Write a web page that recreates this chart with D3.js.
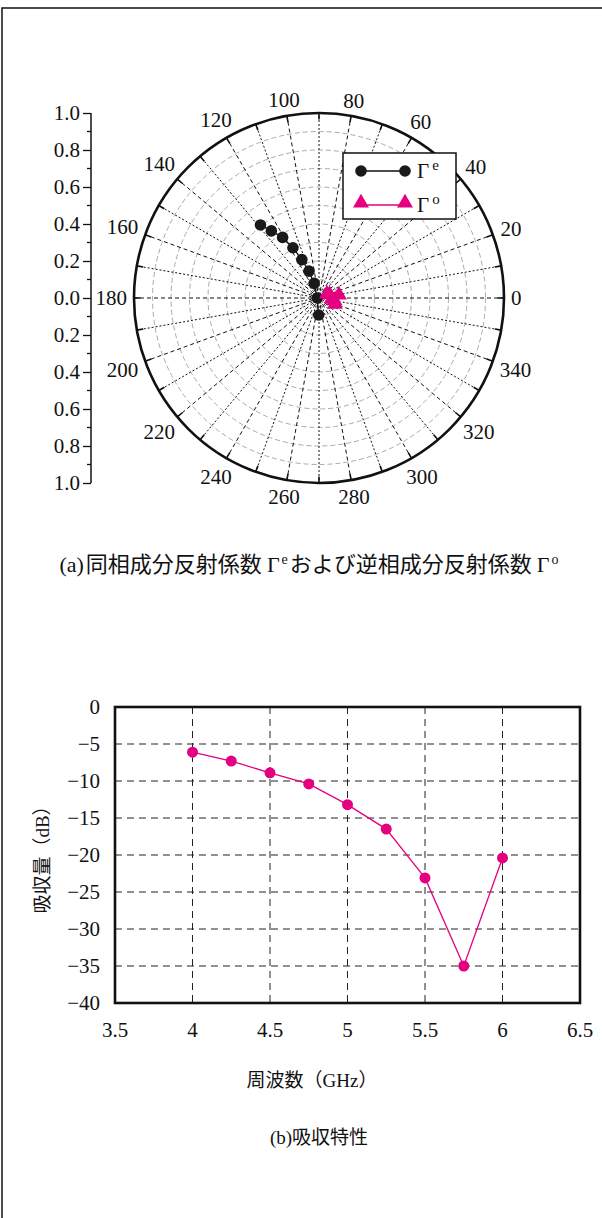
<!DOCTYPE html>
<html>
<head>
<meta charset="utf-8">
<script src="https://cdn.jsdelivr.net/npm/d3@7"></script>
<style>
body { margin: 0; background: #fff; }
text { font-family: "Liberation Serif", "Noto Sans CJK JP", serif; fill: #111; }
</style>
</head>
<body>
<svg id="fig" width="602" height="1218"></svg>
<script>
// ---- data: (a) polar reflection coefficients ----
let gammaEMag = [0.506, 0.445, 0.382, 0.306, 0.227, 0.155, 0.083, 0.01, 0.092];
let gammaEAng = [128.7, 125.4, 121.0, 117.4, 114.1, 110.5, 108.3, 180, 269];
let gammaOMag = [0.048, 0.06, 0.109, 0.07, 0.085, 0.092];
let gammaOAng = [27, 18, 8.5, 356, 350, 339];
let angleLabels = [0, 20, 40, 60, 80, 100, 120, 140, 160, 180, 200, 220, 240, 260, 280, 300, 320, 340];

// ---- data: (b) absorption ----
let freq = [4, 4.25, 4.5, 4.75, 5, 5.25, 5.5, 5.75, 6];
let absorb = [-6.1, -7.3, -8.9, -10.4, -13.2, -16.5, -23.1, -35.0, -20.4];
let xTicks = [3.5, 4, 4.5, 5, 5.5, 6, 6.5];
let yTicks = [0, -5, -10, -15, -20, -25, -30, -35, -40];

const pink = "#e4007f";
const svg = d3.select("#fig");

// outer frame
svg.append("path")
	.attr("d", "M603,8 H2 V1220")
	.attr("fill", "none")
	.attr("stroke", "#111")
	.attr("stroke-width", 1.5);

// ================= (a) polar =================
const cx = 319, cy = 298, R = 185;
let rScale = d3.scaleLinear().domain([0, 1]).range([0, R]);
let polar = svg.append("g").attr("transform", "translate(" + cx + "," + cy + ")");

function px(m, a) { return rScale(m) * Math.cos(a * Math.PI / 180); }
function py(m, a) { return -rScale(m) * Math.sin(a * Math.PI / 180); }

// gray magnitude rings
polar.selectAll(".ring")
	.data(d3.range(1, 10).map(d => d / 10))
	.enter().append("circle")
	.attr("r", d => rScale(d))
	.attr("fill", "none")
	.attr("stroke", "#aaa")
	.attr("stroke-width", 1)
	.attr("stroke-dasharray", "5,3");

// radial spokes every 10 deg
polar.selectAll(".spoke")
	.data(d3.range(0, 360, 10))
	.enter().append("line")
	.attr("x1", 0).attr("y1", 0)
	.attr("x2", d => px(1, d)).attr("y2", d => py(1, d))
	.attr("stroke", "#111")
	.attr("stroke-width", 1)
	.attr("stroke-dasharray", d => d % 20 == 0 ? "4,3" : "2,2");

// outer circle + inward ticks
polar.append("circle")
	.attr("r", R)
	.attr("fill", "none")
	.attr("stroke", "#111")
	.attr("stroke-width", 2.6);

polar.selectAll(".tick")
	.data(d3.range(0, 360, 10))
	.enter().append("line")
	.attr("x1", d => px(1, d)).attr("y1", d => py(1, d))
	.attr("x2", d => px(0.965, d)).attr("y2", d => py(0.965, d))
	.attr("stroke", "#111")
	.attr("stroke-width", 1.6);

// angle labels
polar.selectAll(".alab")
	.data(angleLabels)
	.enter().append("text")
	.style("font-size", "21px")
	.attr("text-anchor", "middle")
	.attr("dy", "0.35em")
	.text(d => d)
	.each(function(d) {
		let w = this.getComputedTextLength() / 2;
		let a = d * Math.PI / 180;
		let rr = R + 7 + w * Math.abs(Math.cos(a)) + 7 * Math.abs(Math.sin(a));
		d3.select(this).attr("x", rr * Math.cos(a)).attr("y", -rr * Math.sin(a));
	});

// series Γe
let lineE = d3.line().x((d, i) => px(gammaEMag[i], gammaEAng[i])).y((d, i) => py(gammaEMag[i], gammaEAng[i]));
polar.append("path")
	.datum(gammaEMag)
	.attr("d", lineE)
	.attr("fill", "none")
	.attr("stroke", "#111")
	.attr("stroke-width", 1.3);

polar.selectAll(".ptE")
	.data(gammaEMag)
	.enter().append("circle")
	.attr("cx", (d, i) => px(d, gammaEAng[i]))
	.attr("cy", (d, i) => py(d, gammaEAng[i]))
	.attr("r", 5.8)
	.attr("fill", "#1a1a1a");

// series Γo
let lineO = d3.line().x((d, i) => px(gammaOMag[i], gammaOAng[i])).y((d, i) => py(gammaOMag[i], gammaOAng[i]));
polar.append("path")
	.datum(gammaOMag)
	.attr("d", lineO)
	.attr("fill", "none")
	.attr("stroke", pink)
	.attr("stroke-width", 1.3);

let tri = d3.symbol().type(d3.symbolTriangle).size(110);
polar.selectAll(".ptO")
	.data(gammaOMag)
	.enter().append("path")
	.attr("d", tri)
	.attr("transform", (d, i) => "translate(" + px(d, gammaOAng[i]) + "," + py(d, gammaOAng[i]) + ")")
	.attr("fill", pink);

// left magnitude axis
let magAxisScale = d3.scaleLinear().domain([-1, 1]).range([cy + R, cy - R]);
let magAxis = svg.append("g")
	.attr("transform", "translate(91,0)")
	.call(d3.axisLeft(magAxisScale)
		.tickValues(d3.range(-10, 11, 2).map(d => d / 10))
		.tickFormat(d => Math.abs(d).toFixed(1))
		.tickSize(8)
		.tickPadding(3));
magAxis.select(".domain").attr("stroke", "#111").attr("stroke-width", 1.5).attr("d", "M0," + (cy - R) + "V" + (cy + R));
magAxis.selectAll(".tick line").attr("stroke", "#111").attr("stroke-width", 1.3);
magAxis.selectAll(".tick text").style("font-size", "21px").style("font-family", "Liberation Serif").attr("fill", "#111");
magAxis.selectAll(".minor")
	.data(d3.range(-9, 10, 2).map(d => d / 10))
	.enter().append("line")
	.attr("x1", -4).attr("x2", 0)
	.attr("y1", d => magAxisScale(d)).attr("y2", d => magAxisScale(d))
	.attr("stroke", "#111").attr("stroke-width", 1.3);

// legend
let leg = svg.append("g").attr("transform", "translate(343,153)");
leg.append("rect").attr("width", 113).attr("height", 66).attr("fill", "#fff").attr("stroke", "#111").attr("stroke-width", 1.5);
leg.append("line").attr("x1", 18).attr("x2", 62).attr("y1", 18).attr("y2", 18).attr("stroke", "#111").attr("stroke-width", 1.3);
leg.selectAll(".lc").data([18, 62]).enter().append("circle").attr("cx", d => d).attr("cy", 18).attr("r", 5.8).attr("fill", "#1a1a1a");
leg.append("line").attr("x1", 18).attr("x2", 62).attr("y1", 52).attr("y2", 52).attr("stroke", pink).attr("stroke-width", 1.3);
leg.selectAll(".lt").data([18, 62]).enter().append("path").attr("d", tri).attr("transform", d => "translate(" + d + ",50)").attr("fill", pink);
[["e", 25], ["o", 59]].forEach(function(p) {
	let t = leg.append("text").attr("x", 74).attr("y", p[1]).style("font-size", "21px");
	t.append("tspan").text("Γ");
	t.append("tspan").attr("dy", -8).attr("dx", 3).style("font-size", "15px").text(p[0]);
});

// caption (a)
let capA = svg.append("text").attr("x", 309).attr("y", 572).attr("text-anchor", "middle").style("font-size", "22px");
capA.append("tspan").text("(a)");
capA.append("tspan").attr("dx", 2).text("同相成分反射係数");
capA.append("tspan").attr("dx", 5).text("Γ");
capA.append("tspan").attr("dy", -8).attr("dx", 2).style("font-size", "14px").text("e");
capA.append("tspan").attr("dy", 8).attr("dx", 2).text("および逆相成分反射係数");
capA.append("tspan").attr("dx", 5).text("Γ");
capA.append("tspan").attr("dy", -8).attr("dx", 2).style("font-size", "14px").text("o");

// ================= (b) absorption =================
const L = 115, T = 707, W = 465, H = 296;
let x = d3.scaleLinear().domain([3.5, 6.5]).range([L, L + W]);
let y = d3.scaleLinear().domain([-40, 0]).range([T + H, T]);

let grid = svg.append("g");
grid.selectAll(".gx")
	.data(xTicks.slice(1, -1))
	.enter().append("line")
	.attr("x1", d => x(d)).attr("x2", d => x(d))
	.attr("y1", T).attr("y2", T + H)
	.attr("stroke", "#222").attr("stroke-width", 1).attr("stroke-dasharray", "7,5");
grid.selectAll(".gy")
	.data(yTicks.slice(1, -1))
	.enter().append("line")
	.attr("x1", L).attr("x2", L + W)
	.attr("y1", d => y(d)).attr("y2", d => y(d))
	.attr("stroke", "#222").attr("stroke-width", 1).attr("stroke-dasharray", "7,5");

svg.append("rect")
	.attr("x", L).attr("y", T).attr("width", W).attr("height", H)
	.attr("fill", "none").attr("stroke", "#111").attr("stroke-width", 2.6);

svg.append("g").selectAll("text")
	.data(xTicks)
	.enter().append("text")
	.attr("x", d => x(d)).attr("y", 1037)
	.attr("text-anchor", "middle")
	.style("font-size", "21px")
	.text(d => d);

svg.append("g").selectAll("text")
	.data(yTicks)
	.enter().append("text")
	.attr("x", 100).attr("y", d => y(d))
	.attr("dy", "0.35em")
	.attr("text-anchor", "end")
	.style("font-size", "21px")
	.text(d => d == 0 ? "0" : "−" + Math.abs(d));

let absLine = d3.line().x((d, i) => x(freq[i])).y(d => y(d));
svg.append("path")
	.datum(absorb)
	.attr("d", absLine)
	.attr("fill", "none")
	.attr("stroke", pink)
	.attr("stroke-width", 1.3);

svg.selectAll(".pb")
	.data(absorb)
	.enter().append("circle")
	.attr("cx", (d, i) => x(freq[i]))
	.attr("cy", d => y(d))
	.attr("r", 5.5)
	.attr("fill", pink);

svg.append("text")
	.attr("transform", "translate(49," + (T + H / 2) + ") rotate(-90)")
	.attr("text-anchor", "middle")
	.style("font-size", "19px")
	.text("吸収量（dB）");

svg.append("text")
	.attr("x", 312).attr("y", 1087)
	.attr("text-anchor", "middle")
	.style("font-size", "19px")
	.text("周波数（GHz）");

svg.append("text")
	.attr("x", 319).attr("y", 1144)
	.attr("text-anchor", "middle")
	.style("font-size", "19px")
	.text("(b)吸収特性");
</script>
</body>
</html>
